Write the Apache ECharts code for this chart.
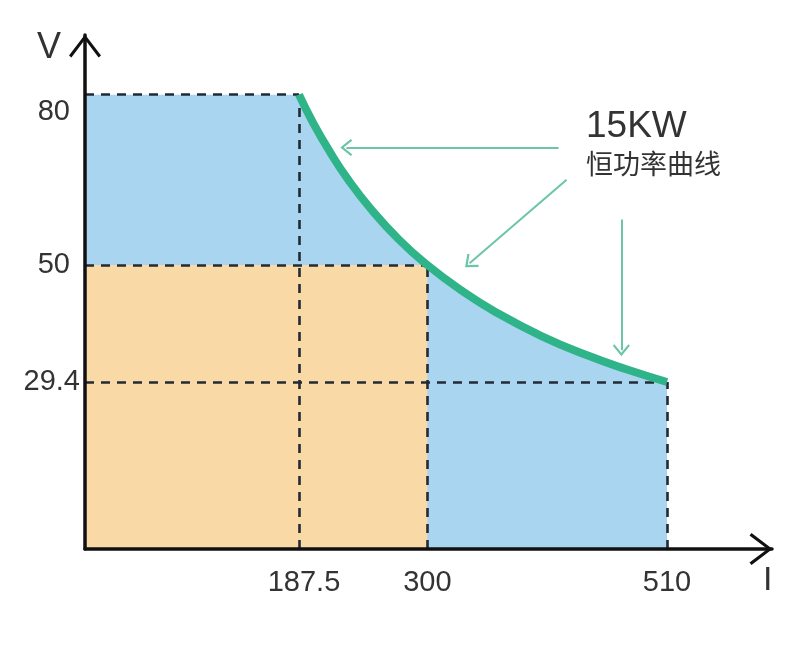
<!DOCTYPE html>
<html>
<head>
<meta charset="utf-8">
<script src="https://cdn.jsdelivr.net/npm/echarts@6/dist/echarts.min.js"></script>
<style>html,body{margin:0;padding:0;background:#fff;}#c{width:800px;height:662px;}</style>
</head>
<body>
<div id="c"></div>
<script>
// Data
const curveI = [187.5, 200, 215, 230, 250, 275, 300, 330, 360, 400, 440, 475, 510];
const curveV = [80, 75, 69.8, 65.2, 60, 54.5, 50, 45.5, 41.7, 37.5, 34.1, 31.6, 29.4];
const ratedVoltage = 80;      // V max
const cornerCurrent = 187.5;  // I at V max
const midPoint = [300, 50];
const endPoint = [510, 29.4];
const xTicks = [187.5, 300, 510];
const yTicks = [29.4, 50, 80];
const powerLabel = '15KW';
const curveLabel = '恒功率曲线';
// annotation arrows (data coords: from -> to)
const arrowsFrom = [[415, 70.7], [422, 65.0], [470, 58.0]];
const arrowsTo   = [[229, 70.7], [337, 50.3], [470, 35.0]];

const curveData = curveI.map((x, i) => [x, curveV[i]]);
const chev = 'path://M16,0 L32,21 L29.6,23 L16,5 L2.4,23 L0,21 Z';
const smallChev = 'path://M8,0 L16,9 L14.6,10.4 L8,3 L1.4,10.4 L0,9 Z';

const dashStyle = {type: [9, 7], color: '#222a35', width: 2.6};
const dashPairs = [
  [[0, ratedVoltage], [cornerCurrent, ratedVoltage]],
  [[cornerCurrent, 0], [cornerCurrent, ratedVoltage]],
  [[0, midPoint[1]], [midPoint[0], midPoint[1]]],
  [[midPoint[0], 0], [midPoint[0], midPoint[1]]],
  [[0, endPoint[1]], [endPoint[0], endPoint[1]]],
  [[endPoint[0], 0], [endPoint[0], endPoint[1]]]
];

const font = 'Liberation Sans, Arial, sans-serif';
const lbl = {fontSize: 29, color: '#333', fontFamily: font};
const chart = echarts.init(document.getElementById('c'), null, {renderer: 'canvas'});
chart.setOption({
  animation: false,
  backgroundColor: '#ffffff',
  grid: {left: 85, right: 28, top: 35, bottom: 113},
  xAxis: {
    type: 'value', min: 0, max: 602, z: 10,
    splitLine: {show: false},
    axisTick: {show: false},
    axisLine: {show: true, onZero: false, lineStyle: {color: '#111', width: 3.5},
      symbol: ['none', chev], symbolSize: [32, 23], symbolOffset: [0, -11]},
    axisLabel: Object.assign({customValues: xTicks, margin: 19,
      formatter: v => (v === xTicks[0] ? '{s|' + v + '}' : '{n|' + v + '}'),
      rich: {s: Object.assign({padding: [0, 0, 0, 10]}, lbl), n: Object.assign({}, lbl)}}, lbl)
  },
  yAxis: {
    type: 'value', min: 0, max: 90.5, z: 10,
    splitLine: {show: false},
    axisTick: {show: false},
    axisLine: {show: true, onZero: false, lineStyle: {color: '#111', width: 3.5},
      symbol: ['none', chev], symbolSize: [32, 23], symbolOffset: [0, -11]},
    axisLabel: Object.assign({customValues: yTicks, margin: 5,
      formatter: v => (v === yTicks[2] ? '{t|' + v + '}' : v === yTicks[1] ? '{m|' + v + '}' : '{n|' + v + '}'),
      rich: {
        t: Object.assign({padding: [34, 10, 0, 0]}, lbl),
        m: Object.assign({padding: [0, 10, 0, 0]}, lbl),
        n: Object.assign({}, lbl)
      }}, lbl)
  },
  series: [
    {
      type: 'line', z: 1, symbol: 'none', silent: true,
      data: [[0, ratedVoltage], [cornerCurrent, ratedVoltage]],
      lineStyle: {width: 0}, areaStyle: {color: '#a9d5f0', opacity: 1}
    },
    {
      type: 'line', z: 1, symbol: 'none', silent: true, smooth: true,
      data: curveData,
      lineStyle: {width: 0}, areaStyle: {color: '#a9d5f0', opacity: 1}
    },
    {
      type: 'line', z: 2, symbol: 'none', silent: true,
      data: [[0, midPoint[1]], [midPoint[0], midPoint[1]]],
      lineStyle: {width: 0}, areaStyle: {color: '#f9daa6', opacity: 1},
      markLine: {silent: true, symbol: 'none', label: {show: false},
        lineStyle: dashStyle,
        data: dashPairs.map(p => [{coord: p[0]}, {coord: p[1]}])}
    },
    {
      type: 'line', z: 5, symbol: 'none', silent: true, smooth: true,
      data: curveData,
      lineStyle: {width: 8, color: '#2fb48a'}
    },
    {
      type: 'line', z: 6, symbol: 'none', silent: true, data: [],
      markLine: {silent: true, symbol: ['none', smallChev], symbolSize: [17, 12],
        label: {show: false},
        lineStyle: {type: 'solid', color: '#6cc5a5', width: 2},
        data: arrowsFrom.map((f, i) => [{coord: f}, {coord: arrowsTo[i]}])}
    }
  ],
  graphic: [
    {type: 'text', left: 37, top: 30, style: {text: 'V', fontSize: 36, fill: '#333', fontFamily: font}},
    {type: 'text', left: 763, top: 564, style: {text: 'I', fontSize: 34, fill: '#333', fontFamily: font}},
    {type: 'text', left: 586, top: 108, style: {text: powerLabel, fontSize: 37, fill: '#333', fontFamily: font}},
    {type: 'text', left: 586, top: 150, style: {text: curveLabel, fontSize: 27, fill: '#333',
      fontFamily: 'Noto Sans CJK SC, sans-serif'}}
  ]
});
</script>
</body>
</html>
